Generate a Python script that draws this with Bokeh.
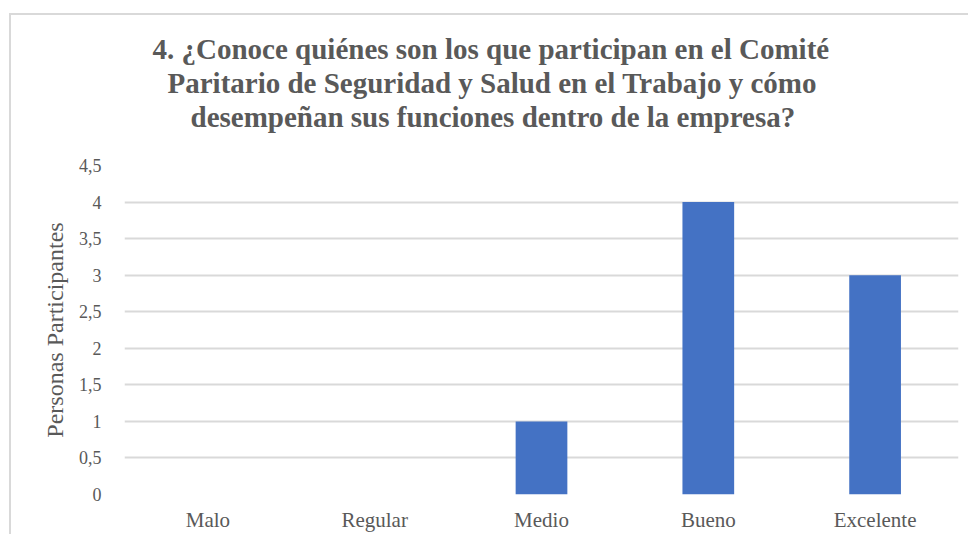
from bokeh.plotting import figure
from bokeh.models import ColumnDataSource, FixedTicker, CustomJSTickFormatter, Title
from bokeh.embed import file_html
from bokeh.resources import INLINE

categories = ["Malo", "Regular", "Medio", "Bueno", "Excelente"]
values = [0, 0, 1, 4, 3]
y_ticks = [0, 0.5, 1, 1.5, 2, 2.5, 3, 3.5, 4, 4.5]
title_lines = [
    "4. ¿Conoce quiénes son los que participan en el Comité",
    "Paritario de Seguridad y Salud en el Trabajo  y cómo",
    "desempeñan sus funciones dentro de la empresa?",
]
title_offsets = [28, 43, 66]
y_label = "Personas Participantes"

FONT = "Liberation Serif"
GREY = "#595959"

src = ColumnDataSource(dict(cat=categories, val=values))

p = figure(
    x_range=categories, y_range=(0, 4.5),
    width=959, height=521,
    output_backend="svg", toolbar_location=None,
    min_border_left=113, min_border_right=12,
    min_border_top=150, min_border_bottom=42,
    margin=(13, 0, 0, 9),
)
p.styles = {"border-top": "2px solid #d9d9d9", "border-left": "2px solid #d9d9d9"}
p.outline_line_color = None

p.vbar(x="cat", top="val", width=0.31, source=src, fill_color="#4472C4", line_color=None)

# spacer between title and plot area
p.add_layout(Title(text=" ", text_font_size="28px", standoff=0), "above")
# add bottom line first (closest to the frame), then upward
for line, off in zip(reversed(title_lines), reversed(title_offsets)):
    t = Title(text=line, align="left", offset=off, text_font=FONT,
              text_font_size="29px", text_font_style="bold", text_color=GREY,
              text_line_height=1.11, standoff=0)
    p.add_layout(t, "above")

p.yaxis.ticker = FixedTicker(ticks=y_ticks)
p.yaxis.formatter = CustomJSTickFormatter(code="return tick.toString().replace('.', ',');")
p.yaxis.axis_line_color = None
p.yaxis.major_tick_line_color = None
p.yaxis.minor_tick_line_color = None
p.yaxis.major_label_text_font = FONT
p.yaxis.major_label_text_font_size = "18px"
p.yaxis.major_label_text_color = GREY
p.yaxis.major_label_standoff = 17
p.yaxis.axis_label = y_label
p.yaxis.axis_label_text_font = FONT
p.yaxis.axis_label_text_font_size = "24px"
p.yaxis.axis_label_text_font_style = "normal"
p.yaxis.axis_label_text_color = GREY
p.yaxis.axis_label_standoff = 8

p.xaxis.axis_line_color = None
p.xaxis.major_tick_line_color = None
p.xaxis.minor_tick_line_color = None
p.xaxis.major_label_text_font = FONT
p.xaxis.major_label_text_font_size = "21px"
p.xaxis.major_label_text_color = GREY
p.xaxis.major_label_standoff = 7

p.xgrid.grid_line_color = None
p.ygrid.grid_line_color = "#d9d9d9"
p.ygrid.grid_line_width = 2

open("out.html", "w").write(file_html(p, INLINE))
